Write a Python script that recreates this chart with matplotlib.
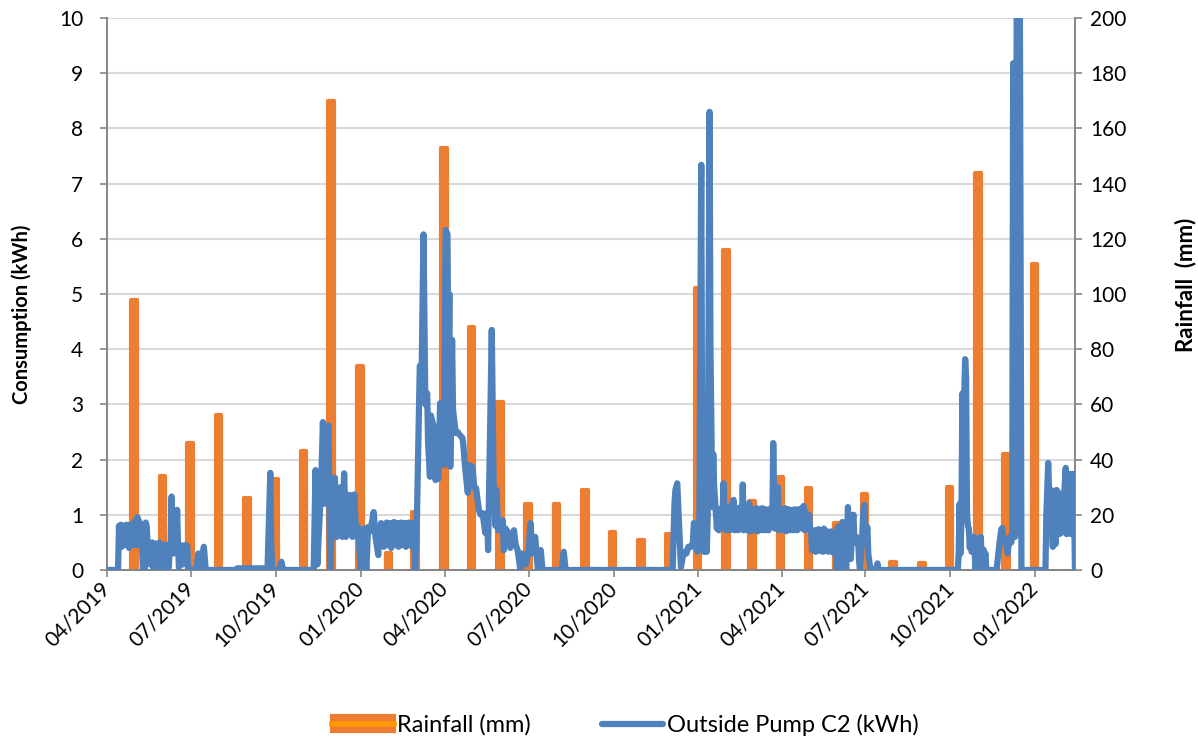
import matplotlib
matplotlib.use("Agg")
import matplotlib.pyplot as plt
import matplotlib.dates as mdates
from matplotlib.patches import Patch
from matplotlib.lines import Line2D
import numpy as np
import pandas as pd

plt.rcParams['font.family'] = ['Lato', 'DejaVu Sans']

# ---------------- data ----------------
series_start = "2019-04-01"
axis_end_day = 1049

# monthly rainfall totals (mm), April 2019 .. December 2021, plotted at month end
rain_first_month_end = "2019-04-30"
rain_mm = [98, 34, 46, 56, 26, 33, 43, 170, 74, 6, 21, 153,
           88, 61, 24, 24, 29, 13.6, 11, 13, 102, 116, 25, 33.6,
           29.6, 17, 27.6, 3, 2.4, 30, 144, 42, 111]

# outside pump C2 consumption (kWh): (day since series start, kWh)
pump_readings = [
    (0, 0), (12, 0), (13, 0.8), (14, 0.48), (15, 0.82), (16, 0.42), (17, 0.8), (18, 0.45),
    (19, 0.8), (20, 0.5), (21, 0.82), (22, 0.45), (23, 0.78), (24, 0.4), (25, 0.82),
    (26, 0.48), (27, 0.8), (28, 0.45), (29, 0.85), (30, 0.5), (31, 0.9), (32, 0.45),
    (33, 0.96), (34, 0.6), (35, 0.88), (36, 0.45), (37, 0.82), (38, 0.4), (39, 0), (41, 0),
    (42, 0.86), (43, 0.8), (44, 0.45), (46, 0.47), (47, 0.1), (48, 0.45), (49, 0.5),
    (50, 0.05), (51, 0.45), (52, 0.43), (53, 0.48), (54, 0), (55, 0.45), (56, 0.42),
    (57, 0.5), (58, 0.05), (59, 0.45), (60, 0.44), (61, 0), (62, 0.43), (63, 0.46),
    (64, 0.1), (65, 0.45), (66, 0.42), (67, 0.05), (68, 0.45), (69, 0.5), (70, 1.33),
    (71, 0.45), (72, 0.3), (73, 0.45), (75, 0.6), (76, 1.09), (77, 0.42), (78, 0.05),
    (79, 0.43), (80, 0.45), (81, 0.42), (82, 0.1), (83, 0.44), (84, 0.43), (85, 0.45),
    (86, 0.42), (87, 0.43), (88, 0), (97, 0), (99, 0.3), (100, 0.05), (102, 0.1),
    (105, 0.42), (107, 0), (140, 0), (141, 0.03), (174, 0.03), (176, 1.2), (177, 1.76),
    (178, 0.5), (179, 0), (187, 0), (189, 0.15), (191, 0), (224, 0),
    (226, 1.81), (228, 0.1), (230, 0.8), (232, 1.5), (234, 2.68), (236, 1.2), (238, 2.5),
    (240, 2.62), (242, 0), (244, 1.0), (247, 1.67), (249, 0.6), (251, 1.2), (253, 1.5),
    (255, 0.6), (257, 1.75), (259, 0.6), (261, 1.35), (263, 1.36), (264, 1.3), (266, 0.6),
    (268, 1.37), (270, 0.62), (272, 0.78), (275, 0), (277, 0.72), (279, 0.75), (281, 0),
    (283, 0.78), (285, 0.7), (287, 0.85), (289, 1.05), (291, 0.6), (294, 0.27),
    (295, 0.75), (296, 0.45), (297, 0.85), (298, 0.5), (299, 0.8), (300, 0.42), (301, 0.82),
    (302, 0.55), (303, 0.86), (304, 0.45), (305, 0.8), (306, 0.5), (307, 0.85), (308, 0.4),
    (309, 0.82), (310, 0.55), (311, 0.87), (312, 0.45), (313, 0.8), (314, 0.5), (315, 0.85),
    (316, 0.42), (317, 0.8), (318, 0.55), (319, 0.86), (320, 0.45), (321, 0.82), (322, 0.5),
    (323, 0.85), (324, 0.42), (325, 0.8), (326, 0.55), (327, 0.86), (328, 0.45), (329, 0.82),
    (330, 0.5), (331, 0.85), (332, 0.4), (333, 0.8), (334, 0),
    (336, 1.05), (339, 3.7), (341, 3.6), (343, 6.08), (345, 3.0), (347, 3.2), (348, 2.3),
    (350, 1.69), (351, 2.8), (354, 2.6), (356, 1.63), (358, 2.2), (359, 1.65), (361, 3.02),
    (363, 2.3), (365, 1.9), (367, 6.16), (369, 6.08), (370, 3.5), (371, 5.0), (372, 1.87),
    (374, 4.17), (375, 2.9), (378, 2.48), (380, 2.5), (383, 2.43), (385, 2.4), (386, 2.3),
    (388, 1.87), (391, 1.4), (393, 1.9), (396, 1.87), (398, 1.5), (400, 1.48), (403, 1.09),
    (405, 1.0), (407, 1.03), (410, 0.67), (412, 1.03), (413, 0.36), (417, 4.35), (419, 1.5),
    (421, 0.8), (422, 1.45), (424, 0.72), (426, 0.85), (429, 0.9), (430, 0.36), (432, 0.75),
    (435, 0.67), (437, 0.4), (441, 0.72), (443, 0.45), (445, 0.36), (448, 0), (450, 0.3),
    (454, 0.1), (457, 0.36), (459, 0.85), (461, 0.3), (462, 0.36), (464, 0.6), (467, 0),
    (470, 0.36), (472, 0), (493, 0), (495, 0.33), (497, 0), (613, 0),
    (615, 1.2), (616, 1.45), (618, 1.57), (620, 0.8), (622, 0.05), (624, 0.24), (626, 0.33),
    (628, 0.3), (630, 0.42), (633, 0.42), (635, 0.5), (636, 0.85), (638, 0.82), (640, 0.33),
    (641, 0.5), (642, 1.0), (644, 7.34), (645, 2.0), (646, 0.6), (647, 0.33), (648, 0.5),
    (650, 0.33), (651, 1.0), (653, 8.3), (654, 4.0), (656, 1.14), (657, 2.1), (658, 1.5),
    (660, 1.0), (661, 0.75), (662, 1.1), (663, 0.72), (664, 1.05), (665, 0.78), (666, 1.12),
    (667, 0.9), (668, 1.57), (669, 0.75), (670, 1.1), (671, 0.72), (672, 1.05), (673, 0.8),
    (674, 1.15), (675, 0.72), (676, 1.08), (677, 0.75), (678, 1.1), (679, 1.27), (680, 0.72),
    (681, 1.05), (682, 0.78), (683, 1.12), (684, 0.72), (685, 1.1), (686, 0.8), (687, 1.15),
    (688, 0.75), (689, 1.55), (690, 0.72), (691, 1.1), (692, 0.78), (693, 1.05), (694, 0.72),
    (695, 1.12), (696, 1.21), (697, 0.7), (698, 1.05), (699, 0.75), (700, 1.1), (701, 0.72),
    (702, 1.08), (703, 0.78), (704, 1.12), (705, 0.7), (706, 1.1), (707, 0.75), (708, 1.05),
    (709, 0.72), (710, 1.12), (711, 0.8), (712, 1.08), (713, 0.72), (714, 1.1), (715, 0.75),
    (716, 1.05), (717, 0.72), (718, 1.1), (719, 0.78), (720, 1.12), (721, 0.8), (722, 2.3),
    (723, 1.3), (724, 0.75), (725, 1.1), (726, 0.8), (727, 1.5), (728, 0.72), (729, 1.08),
    (730, 0.75), (731, 1.1), (732, 0.72), (733, 1.05), (734, 0.78), (735, 1.12), (736, 0.7),
    (737, 1.05), (738, 0.75), (739, 1.1), (740, 0.72), (741, 1.08), (742, 0.75), (743, 1.05),
    (744, 0.72), (745, 1.1), (746, 0.78), (747, 1.05), (748, 0.72), (749, 1.1), (750, 0.75),
    (751, 1.08), (752, 0.8), (753, 1.12), (754, 0.75), (755, 1.16), (756, 0.72), (757, 1.05),
    (758, 0.8), (759, 0.95), (760, 0.75), (761, 1.0), (762, 0.72), (763, 0.72), (764, 0.36),
    (765, 0.7), (766, 0.35), (767, 0.72), (768, 0.33), (769, 0.68), (770, 0.4), (771, 0.74),
    (772, 0.35), (773, 0.7), (774, 0.38), (775, 0.72), (776, 0.33), (777, 0.75), (778, 0.35),
    (779, 0.68), (780, 0.4), (781, 0.7), (782, 0.33), (783, 0.65), (784, 0.36), (785, 0.7),
    (786, 0.33), (787, 0.4), (788, 0.3), (789, 0.55), (790, 0.4), (791, 0), (792, 0.78),
    (793, 0.3), (795, 0.75), (796, 0), (797, 0.87), (798, 0.3), (800, 0.6), (801, 0),
    (803, 1.14), (804, 0.4), (805, 1.0), (806, 0.2), (808, 0.9), (809, 1.0), (810, 0.5),
    (812, 0.6), (814, 0.54), (815, 0.18), (816, 0), (818, 0.5), (820, 1.14), (821, 1.18),
    (822, 0.5), (824, 0.78), (825, 0.3), (827, 0.05), (828, 0), (833, 0), (835, 0.12),
    (836, 0), (922, 0),
    (923, 0.3), (924, 1.2), (925, 0.3), (926, 1.0), (927, 3.2), (928, 2.5), (930, 3.82),
    (931, 3.5), (932, 1.0), (933, 0.8), (934, 0.75), (935, 0.4), (936, 0.6), (937, 0.33),
    (938, 0.35), (939, 0.36), (940, 0.6), (941, 0), (942, 0.3), (944, 0), (945, 0.56),
    (946, 0.4), (947, 0.6), (948, 0), (949, 0.3), (950, 0.37), (951, 0.2), (952, 0.3),
    (953, 0), (964, 0), (966, 0.3), (967, 0.45), (969, 0.73), (970, 0.76), (972, 0.5),
    (974, 0.55), (976, 0.3), (978, 0.6), (980, 0.5), (981, 0.6), (982, 9.18), (984, 0.6),
    (985, 0.8), (986, 12.0), (989, 12.0), (991, 0), (1017, 0), (1018, 1.0), (1020, 1.94),
    (1022, 0.8), (1023, 1.45), (1025, 0.42), (1026, 1.4), (1028, 0.47), (1029, 1.45),
    (1031, 1.4), (1032, 0.65), (1034, 0.67), (1036, 1.0), (1039, 1.85), (1040, 0.65),
    (1042, 0.67), (1044, 1.74), (1045, 0.65), (1047, 1.74), (1048, 1.3), (1049, 0),
]

kwh_ticks = list(range(0, 11))
mm_ticks = list(range(0, 201, 20))

# ---------------- colours ----------------
ORANGE = "#ED7D31"
ORANGE_LIGHT = "#FF9900"
BLUE = "#4F81BD"
GRID = "#D9D9D9"
SPINE = "#868686"

start = pd.Timestamp(series_start)
pump_day = np.array([p[0] for p in pump_readings])
pump_kwh = np.array([p[1] for p in pump_readings])
pump_dates = start + pd.to_timedelta(pump_day, unit="D")
rain_dates = pd.date_range(rain_first_month_end, periods=len(rain_mm), freq="ME")

fig = plt.figure(figsize=(11.98, 7.42), dpi=100)
ax = fig.add_axes([0.0893, 0.2318, 0.8080, 0.7439])
ax_rain = ax.twinx()

# rainfall bars on the secondary axis, kept underneath the consumption line
ax_rain.bar(rain_dates, rain_mm, width=6, color=ORANGE, edgecolor=ORANGE,
            linewidth=3.0, joinstyle="round", zorder=2)
ax_rain.set_ylim(0, 200)
ax_rain.set_yticks(mm_ticks)
ax_rain.grid(True, axis="both", color=GRID, linewidth=1.5, zorder=0)
ax_rain.set_axisbelow(True)

ax.set_zorder(ax_rain.get_zorder() + 1)
ax.patch.set_visible(False)
ax.plot(pump_dates, pump_kwh, color=BLUE, linewidth=4.5,
        solid_joinstyle="round", solid_capstyle="round", zorder=3)
ax.set_ylim(0, 10)
ax.set_yticks(kwh_ticks)
ax.set_xlim(start, start + pd.Timedelta(days=axis_end_day))

ax.xaxis.set_major_locator(mdates.MonthLocator(bymonth=[1, 4, 7, 10]))
ax.xaxis.set_major_formatter(mdates.DateFormatter("%m/%Y"))
for lbl in ax.get_xticklabels():
    lbl.set_rotation(45)
    lbl.set_ha("right")
    lbl.set_va("center")
    lbl.set_rotation_mode("anchor")

for a in (ax, ax_rain):
    a.spines["top"].set_visible(False)
    for s in ("left", "right", "bottom"):
        a.spines[s].set_color(SPINE)
        a.spines[s].set_linewidth(1.4)
    a.tick_params(axis="both", colors=SPINE, labelcolor="black", labelsize=15,
                  length=5, width=1.2)
ax.tick_params(axis="x", pad=6)
ax.tick_params(axis="y", pad=12)
ax_rain.tick_params(axis="y", pad=6)
ax.spines["right"].set_visible(False)
ax_rain.spines["left"].set_visible(False)

ax.set_ylabel("Consumption (kWh)", fontsize=14.5, fontweight="bold",
              va="center", ha="center")
ax.yaxis.set_label_coords(-0.088, 0.464)
ax_rain.set_ylabel("Rainfall  (mm)", fontsize=16, fontweight="bold", rotation=90,
                   va="center", ha="center")
ax_rain.yaxis.set_label_coords(1.114, 0.516)

rain_handle = (Patch(facecolor=ORANGE, edgecolor=ORANGE, linewidth=3, joinstyle="round"),
               Line2D([], [], color=ORANGE_LIGHT, linewidth=4))
pump_handle = Line2D([], [], color=BLUE, linewidth=4.5, solid_capstyle="round")
fig.legend([rain_handle, pump_handle], ["Rainfall (mm)", "Outside Pump C2 (kWh)"],
           loc="center", bbox_to_anchor=(0.522, 0.023), ncol=2, frameon=False,
           fontsize=17, handlelength=2.6, handleheight=0.6, handletextpad=0.15,
           columnspacing=3.0, borderaxespad=0)

fig.savefig("out.png", dpi=100)
